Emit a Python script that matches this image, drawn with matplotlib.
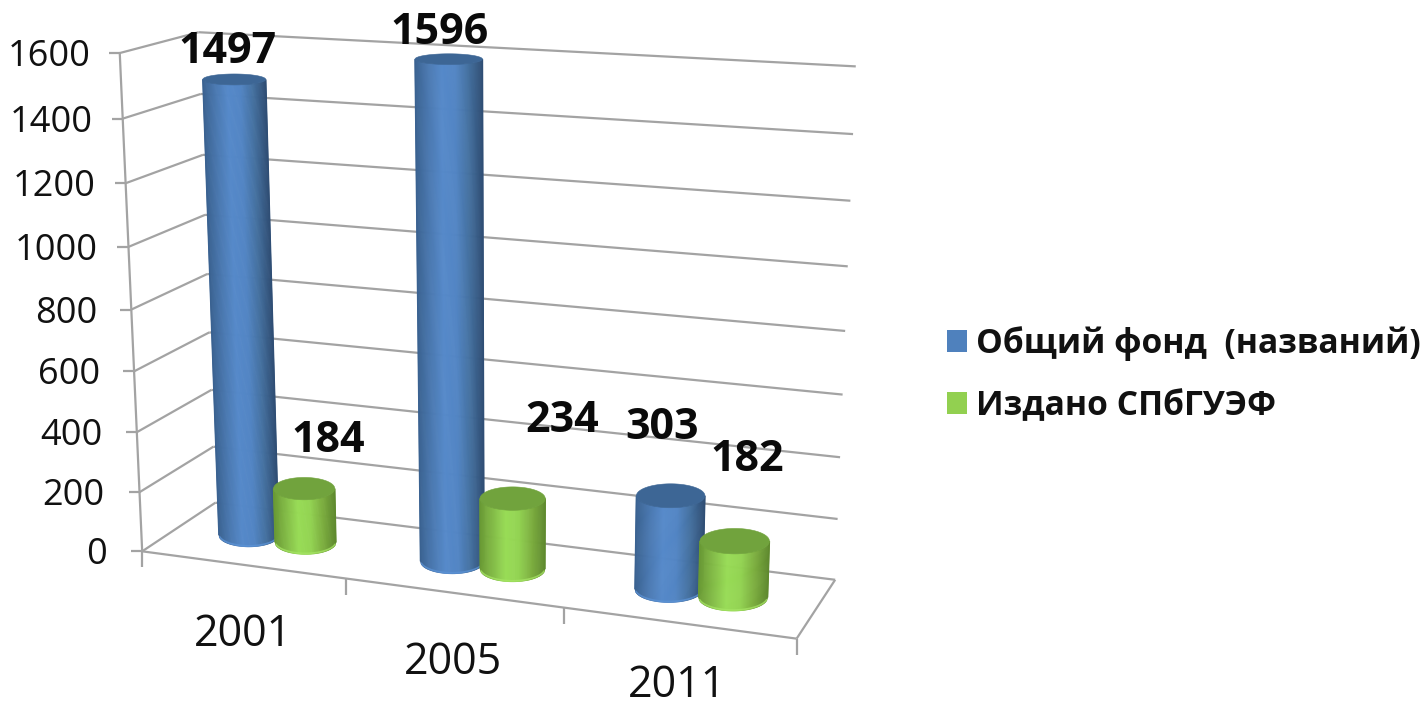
import numpy as np
import matplotlib
matplotlib.use("Agg")
import matplotlib.pyplot as plt
from matplotlib.collections import PolyCollection
from matplotlib.patches import Polygon, Patch
from matplotlib.colors import LinearSegmentedColormap

plt.rcParams['font.family'] = ['Open Sans', 'DejaVu Sans']

# ---- data ----
categories = ['2001', '2005', '2011']
series_names = ['Общий фонд  (названий)', 'Издано СПбГУЭФ']
fund_values = [1497, 1596, 303]
published_values = [184, 234, 182]
value_ticks = [0, 200, 400, 600, 800, 1000, 1200, 1400, 1600]

# ---- styles ----
VMAX = 1600
GRID = '#a3a3a3'
BLUE_SHADES = ['#3a6291', '#4a78b0', '#5589ca', '#5285c4', '#44709f', '#2f4e75']
GREEN_SHADES = ['#6a9a34', '#82bb46', '#98dc56', '#93d452', '#7cae3f', '#5f8a2e']
BLUE_TOP, GREEN_TOP = '#3d6695', '#71a33d'
BLUE_RIM, GREEN_RIM = '#5c93d6', '#a6e565'
BLUE_KEY, GREEN_KEY = '#4f81bd', '#92d050'
BLUE_OFFSET, GREEN_OFFSET = -0.049, 0.046   # bar centre offsets from the category centre
RX, RD = 0.0505, 0.235

# camera calibration: (x fraction, depth fraction, value fraction) -> pixel
calib = [
    ((0, 0, 0), (142, 551)), ((0, 0, 1), (121, 54)), ((0, 1, 0), (217, 503)),
    ((0, 1, 1), (197, 32)), ((1, 0, 0), (797, 638)), ((1, 1, 0), (834, 580)),
    ((1, 1, 1), (856, 67)), ((1/3, 0, 0), (346, 580)), ((2/3, 0, 0), (564, 608)),
    ((0, 0, .125), (139, 492)), ((1, 1, .5), (846, 330)), ((0, 0, .5), (131, 308)),
]
A, b = [], []
for (X, Y, Z), (u, v) in calib:
    A.append([X, Y, Z, 1, 0, 0, 0, 0, -u*X, -u*Y, -u*Z]); b.append(u)
    A.append([0, 0, 0, 0, X, Y, Z, 1, -v*X, -v*Y, -v*Z]); b.append(v)
P = np.append(np.linalg.lstsq(np.array(A, float), np.array(b, float), rcond=None)[0], 1).reshape(3, 4)


def proj(x, d, val):
    """Project floor position x, depth d and data value val to figure pixels."""
    x, d, val = np.broadcast_arrays(np.asarray(x, float), np.asarray(d, float), np.asarray(val, float))
    h = P @ np.stack([x, d, val / VMAX, np.ones_like(x)])
    return h[0] / h[2], h[1] / h[2]


fig = plt.figure(figsize=(14.25, 7.07), dpi=100)
ax = fig.add_axes([0, 0, 1, 1])
ax.set_xlim(0, 1425)
ax.set_ylim(707, 0)
ax.axis('off')


def seg(p, q, lw=1.6, z=1):
    ax.plot([p[0], q[0]], [p[1], q[1]], color=GRID, lw=lw, zorder=z, solid_capstyle='butt')


# walls
tick_gaps = [35, 35, 34, 34, 34, 31, 30, 30, 29]
for t, gap in zip(value_ticks, tick_gaps):
    a, b_, c = proj(0, 0, t), proj(0, 1, t), proj(1, 1, t)
    seg(a, b_)
    seg(b_, c)
    seg((a[0] - 11, a[1]), a)
    ax.text(a[0] - gap, a[1] + 4, str(t), ha='right', va='center', fontsize=26, color='#111111', zorder=6)
seg(proj(0, 0, 0), proj(0, 0, VMAX))
seg(proj(0, 0, 0), proj(1, 0, 0))
seg(proj(1, 0, 0), proj(1, 1, 0))
for i in range(len(categories) + 1):
    p = proj(i / len(categories), 0, 0)
    seg(p, (p[0], p[1] + 16))

# category labels
cat_offsets = [(0, 70), (-1, 70), (-1, 63)]
for i, name in enumerate(categories):
    p = proj((i + 0.5) / len(categories), 0, 0)
    ax.text(p[0] + cat_offsets[i][0], p[1] + cat_offsets[i][1], name, ha='center', va='center',
            fontsize=31, color='#111111', zorder=6)


def ring(xc, value, th):
    """Level ellipse of a cylinder at a value, sized by the local camera scale."""
    cx, cy = proj(xc, 0.5, value)
    w = (proj(xc + RX, 0.5, value)[0] - proj(xc - RX, 0.5, value)[0]) / 2
    h = abs(proj(xc, 0.5 + RD, value)[1] - proj(xc, 0.5 - RD, value)[1]) / 2
    return cx + w * np.cos(th), cy + h * np.sin(th)


def cylinder(xc, value, shades, top_col, rim_col, z):
    cmap = LinearSegmentedColormap.from_list('c', shades)
    # near side of the cylinder, cut into strips of equal width on screen
    edges = np.linspace(0, 1, 71)
    front = np.arccos(1 - 2 * edges)[::-1]
    fbx, fby = ring(xc, 0, front)
    ftx, fty = ring(xc, value, front)
    quads = [[(fbx[i], fby[i]), (fbx[i + 1], fby[i + 1]), (ftx[i + 1], fty[i + 1]), (ftx[i], fty[i])]
             for i in range(len(front) - 1)]
    u = (fbx[:-1] + fbx[1:]) / 2
    u = (u - fbx.min()) / (fbx.max() - fbx.min())
    cols = cmap(u)
    pc = PolyCollection(quads, facecolors=cols, edgecolors=cols, linewidths=0.5, zorder=z)
    pc.set_snap(False)
    ax.add_collection(pc)
    # clean silhouette lines and the lit lower rim
    for i, shade in ((0, shades[0]), (-1, shades[-1])):
        line, = ax.plot([fbx[i], ftx[i]], [fby[i], fty[i]], color=shade, lw=1.0, zorder=z + 0.1,
                        solid_capstyle='butt')
        line.set_snap(False)
    ax.plot(fbx[1:-1], fby[1:-1] - 1, color=rim_col, lw=1.2, alpha=0.75, zorder=z + 0.1, solid_capstyle='round')
    tx, ty = ring(xc, value, np.linspace(0, 2 * np.pi, 181))
    ax.add_patch(Polygon(np.column_stack([tx, ty]), closed=True, facecolor=top_col,
                         edgecolor=top_col, lw=0.4, zorder=z + 0.2))


for i in range(len(categories)):
    c = (i + 0.5) / len(categories)
    cylinder(c + BLUE_OFFSET, fund_values[i], BLUE_SHADES, BLUE_TOP, BLUE_RIM, 2 + i * 2)
    cylinder(c + GREEN_OFFSET, published_values[i], GREEN_SHADES, GREEN_TOP, GREEN_RIM, 3 + i * 2)

# data labels (offset from the top centre of each bar, in pixels)
fund_lab = [(-7, -28), (-9, -27), (-9, -68)]
pub_lab = [(24, -48), (50, -78), (13, -82)]
for i in range(len(categories)):
    c = (i + 0.5) / len(categories)
    for val, dx, off in ((fund_values[i], BLUE_OFFSET, fund_lab[i]), (published_values[i], GREEN_OFFSET, pub_lab[i])):
        p = proj(c + dx, 0.5, val)
        ax.text(p[0] + off[0], p[1] + off[1], str(val), ha='center', va='center',
                fontsize=31, fontweight='bold', color='#0a0a0a', zorder=20)

# legend
handles = [Patch(facecolor=BLUE_KEY, label=series_names[0]), Patch(facecolor=GREEN_KEY, label=series_names[1])]
leg = ax.legend(handles=handles, loc='upper left', bbox_to_anchor=(947 / 1425, 1 - 326 / 707),
                bbox_transform=fig.transFigure, frameon=False, borderpad=0, borderaxespad=0,
                handlelength=0.6, handleheight=0.6, handletextpad=0.27, labelspacing=0.83,
                prop={'size': 24.2, 'weight': 'bold'})
for t in leg.get_texts():
    t.set_color('#111111')

fig.savefig('out.png', dpi=100)
